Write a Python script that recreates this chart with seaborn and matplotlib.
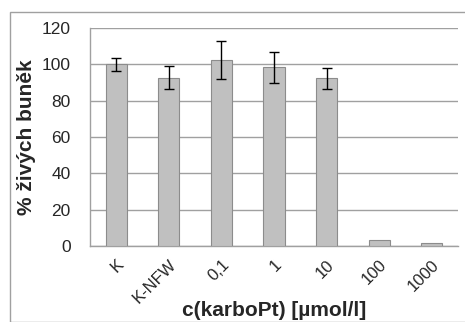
import numpy as np
import pandas as pd
import matplotlib
matplotlib.use('Agg')
import matplotlib.pyplot as plt
import seaborn as sns
from matplotlib.patches import Rectangle

# values
categories = ['K', 'K-NFW', '0,1', '1', '10', '100', '1000']
viability = [100.0, 92.7, 102.5, 98.5, 92.4, 3.3, 1.5]
sd = [3.7, 6.5, 10.3, 8.5, 5.7, 0.0, 0.0]
y_ticks = [0, 20, 40, 60, 80, 100, 120]

sns.set_style('white')
plt.rcParams['font.family'] = ['Liberation Sans', 'DejaVu Sans']

df = pd.DataFrame({'c': categories, 'v': viability})

fig = plt.figure(figsize=(4.65, 3.22), dpi=100)
ax = fig.add_axes([0.1935, 0.236, 0.7915, 0.677])

# outer chart border
fig.patches.append(Rectangle((10/465, 0), 1, 1 - 12/322, transform=fig.transFigure,
                             fill=False, edgecolor='#a0a0a0', linewidth=1.0))

sns.barplot(data=df, x='c', y='v', color='#c0c0c0', saturation=1, width=0.4,
            edgecolor='#8c8c8c', linewidth=0.8, errorbar=None, ax=ax, zorder=3)
ax.errorbar(np.arange(5), viability[:5], yerr=sd[:5], fmt='none', ecolor='black',
            elinewidth=1.0, capsize=3.5, capthick=1.0, zorder=4)

ax.set_ylim(0, 120)
ax.set_xlim(-0.5, len(categories) - 0.5)
ax.set_yticks(y_ticks)
ax.yaxis.grid(True, color='#a0a0a0', linewidth=1.0)
ax.set_axisbelow(True)
for s in ['top', 'right']:
    ax.spines[s].set_visible(False)
for s in ['left', 'bottom']:
    ax.spines[s].set_color('#a0a0a0')
    ax.spines[s].set_linewidth(1.0)

ax.set_xticks(np.arange(len(categories)))
ax.set_xticklabels(categories, rotation=45, ha='right', rotation_mode='anchor', fontsize=12)
ax.tick_params(axis='x', length=0, pad=8)
ax.set_xticks(np.arange(-0.5, len(categories)), minor=True)
ax.tick_params(axis='x', which='minor', length=4, color='#a0a0a0', width=1.0, direction='out')
ax.tick_params(axis='y', length=5, color='#a0a0a0', width=1.0, labelsize=12.5, pad=9)

ax.set_xlabel('c(karboPt) [µmol/l]', fontsize=15, fontweight='bold')
ax.xaxis.set_label_coords(0.5, -0.25)
ax.set_ylabel('% živých buněk', fontsize=15, fontweight='bold', labelpad=4)

fig.savefig('out.png', dpi=100)
